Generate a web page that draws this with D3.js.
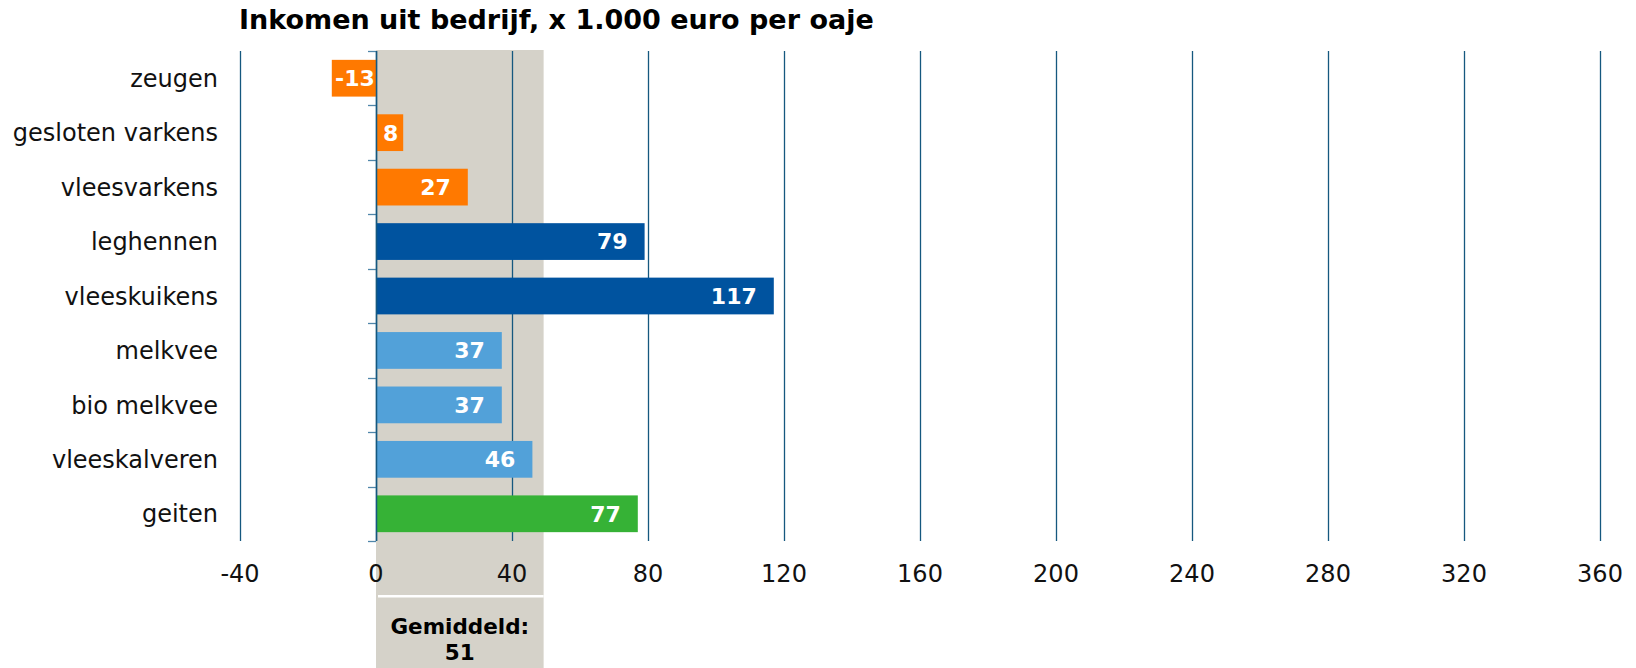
<!DOCTYPE html>
<html>
<head>
<meta charset="utf-8">
<script src="https://cdn.jsdelivr.net/npm/d3@7"></script>
<style>
  body { margin: 0; background: #fff; }
  text { font-family: 'DejaVu Sans', Verdana, sans-serif; }
</style>
</head>
<body>
<div class="canvas"></div>
<script>
'use strict';

const categories = ['zeugen', 'gesloten varkens', 'vleesvarkens', 'leghennen', 'vleeskuikens', 'melkvee', 'bio melkvee', 'vleeskalveren', 'geiten'];
const values = [-13, 8, 27, 79, 117, 37, 37, 46, 77];
const groups = ['varkens', 'varkens', 'varkens', 'pluimvee', 'pluimvee', 'rund', 'rund', 'rund', 'geit'];
const xTicks = [-40, 0, 40, 80, 120, 160, 200, 240, 280, 320, 360];
const average = 51;
const averageBand = 49.3;

const colors = { varkens: '#ff7900', pluimvee: '#00539f', rund: '#52a1d9', geit: '#36b236' };
const gridColor = '#15587f';

const width = 1636;
const height = 668;

const svg = d3
  .select('.canvas')
  .append('svg')
  .attr('width', width)
  .attr('height', height);

const x = d3.scaleLinear().domain([-40, 360]).range([240, 1600]);
const y = d3
  .scaleBand()
  .domain(categories)
  .range([51, 541])
  .paddingInner(0.325)
  .paddingOuter(0.1625);

const px = v => Math.round(x(v)) + 0.5;

const data = categories.map((name, i) => ({ name, value: values[i], group: groups[i] }));

// grey band for the average
svg
  .append('rect')
  .attr('x', x(0))
  .attr('y', 50)
  .attr('width', x(averageBand) - x(0))
  .attr('height', height - 50)
  .attr('fill', '#d5d2c9');

svg
  .append('rect')
  .attr('x', x(0) + 2)
  .attr('y', 595)
  .attr('width', x(averageBand) - x(0) - 2)
  .attr('height', 2.5)
  .attr('fill', '#fff');

// grid lines
svg
  .append('g')
  .selectAll('line')
  .data(xTicks)
  .enter()
  .append('line')
  .attr('x1', d => px(d))
  .attr('x2', d => px(d))
  .attr('y1', 51)
  .attr('y2', 541)
  .attr('stroke', gridColor)
  .attr('stroke-width', 1.3);

// y-axis ticks at category boundaries
const bounds = categories.map(c => y(c) - (y.step() * y.paddingInner()) / 2);
bounds.push(541);
svg
  .append('g')
  .selectAll('line')
  .data(bounds)
  .enter()
  .append('line')
  .attr('x1', x(0) - 8)
  .attr('x2', x(0))
  .attr('y1', d => Math.round(d) + 0.5)
  .attr('y2', d => Math.round(d) + 0.5)
  .attr('stroke', '#4f86aa')
  .attr('stroke-width', 1.3);

// bars
svg
  .append('g')
  .selectAll('rect')
  .data(data)
  .enter()
  .append('rect')
  .attr('x', d => x(Math.min(0, d.value)))
  .attr('y', d => y(d.name))
  .attr('width', d => Math.abs(x(d.value) - x(0)))
  .attr('height', y.bandwidth())
  .attr('fill', d => colors[d.group]);

// y-axis line on top
svg
  .append('line')
  .attr('x1', px(0))
  .attr('x2', px(0))
  .attr('y1', 51)
  .attr('y2', 541)
  .attr('stroke', gridColor)
  .attr('stroke-width', 1.5);

// value labels
const labels = svg
  .append('g')
  .selectAll('text')
  .data(data)
  .enter()
  .append('text')
  .attr('y', d => y(d.name) + y.bandwidth() / 2)
  .attr('dy', '0.36em')
  .attr('fill', '#fff')
  .style('font-size', '22px')
  .style('font-weight', 'bold')
  .text(d => d.value);

labels.each(function (d) {
  const tw = this.getComputedTextLength();
  const x0 = x(Math.min(0, d.value));
  const x1 = x(Math.max(0, d.value));
  const el = d3.select(this);
  if (x1 - x0 < tw + 36) {
    el.attr('x', (x0 + x1) / 2 + 1).attr('text-anchor', 'middle');
  } else {
    el.attr('x', x1 - 17).attr('text-anchor', 'end');
  }
});

// category labels
svg
  .append('g')
  .selectAll('text')
  .data(categories)
  .enter()
  .append('text')
  .attr('x', 218)
  .attr('y', d => y(d) + y.bandwidth() / 2)
  .attr('dy', '0.36em')
  .attr('text-anchor', 'end')
  .attr('fill', '#111')
  .style('font-size', '24px')
  .text(d => d);

// x tick labels
svg
  .append('g')
  .selectAll('text')
  .data(xTicks)
  .enter()
  .append('text')
  .attr('x', d => x(d))
  .attr('y', 582)
  .attr('text-anchor', 'middle')
  .attr('fill', '#111')
  .style('font-size', '24px')
  .text(d => d);

// title
svg
  .append('text')
  .attr('x', 239)
  .attr('y', 29)
  .attr('fill', '#000')
  .style('font-size', '27px')
  .style('font-weight', 'bold')
  .text('Inkomen uit bedrijf, x 1.000 euro per oaje');

// average label
const avgX = (x(0) + x(averageBand)) / 2;
svg
  .append('text')
  .attr('x', avgX)
  .attr('y', 634)
  .attr('text-anchor', 'middle')
  .style('font-size', '21.5px')
  .style('font-weight', 'bold')
  .text('Gemiddeld:');

svg
  .append('text')
  .attr('x', avgX)
  .attr('y', 660)
  .attr('text-anchor', 'middle')
  .style('font-size', '21.5px')
  .style('font-weight', 'bold')
  .text(average);
</script>
</body>
</html>
